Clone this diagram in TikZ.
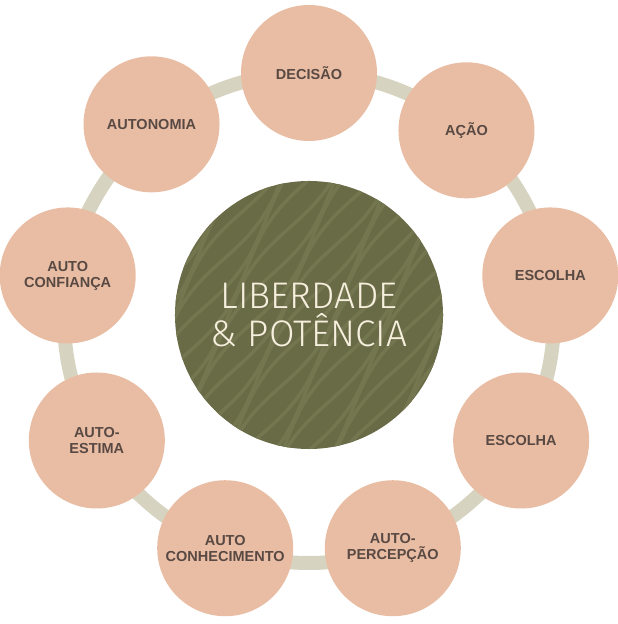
\documentclass[tikz,border=0pt]{standalone}
\usepackage{fontspec}
\usetikzlibrary{calc}
\setmainfont{Liberation Sans}
\newfontfamily\corefont{Fira Sans Light}
\definecolor{peach}{HTML}{E9BDA4}
\definecolor{moss}{HTML}{696B47}
\definecolor{mossline}{HTML}{747650}
\definecolor{ringgray}{HTML}{D6D4C0}
\definecolor{labeltext}{HTML}{594943}
\definecolor{cream}{HTML}{F6EFDD}
\tikzset{
  petal/.style={circle, fill=peach, minimum size=136pt, inner sep=0pt, align=center,
    text=labeltext, font=\bfseries\fontsize{14.5}{16}\selectfont},
  core/.style={circle, minimum size=268pt, inner sep=0pt, align=center,
    text=cream, font=\corefont\fontsize{37}{38}\selectfont},
  waveline/.style={mossline, line width=3.5pt},
  ring/.style={ringgray, line width=14pt}
}
\begin{document}
\begin{tikzpicture}[x=1pt, y=1pt]
    \useasboundingbox (0,0) rectangle (618,624);
    \coordinate (mid) at (309,306);
    \draw [ring] (mid) circle (245);
    \fill [moss] ($(mid)+(0,3)$) circle (134);
    \begin{scope}[shift={($(mid)+(0,3)$)}, rotate=55]
      \clip (0,0) circle (134);
      \foreach \k in {-150,-138,...,150}
        \draw [waveline] plot[smooth, domain=-150:150, samples=16] (\x, {\k + 8*sin(1.7*\x + 23*\k)});
    \end{scope}
    \node [core] (liberdade) at ($(mid)+(0,3)$) {LIBERDADE\\\& POTÊNCIA};
    \node [petal] (decisao) at ($(mid)+(90:245)$) {DECISÃO};
    \node [petal] (acao) at ($(mid)+(50:245)$) {AÇÃO};
    \node [petal] (escolhaA) at ($(mid)+(10:245)$) {ESCOLHA};
    \node [petal] (escolhaB) at ($(mid)+(-30:245)$) {ESCOLHA};
    \node [petal] (percepcao) at ($(mid)+(-70:245)$) {AUTO-\\PERCEPÇÃO};
    \node [petal] (conhecimento) at ($(mid)+(-110:245)$) {AUTO\\CONHECIMENTO};
    \node [petal] (estima) at ($(mid)+(-150:245)$) {AUTO-\\ESTIMA};
    \node [petal] (confianca) at ($(mid)+(170:245)$) {AUTO\\CONFIANÇA};
    \node [petal, yshift=6pt] (autonomia) at ($(mid)+(130:245)$) {AUTONOMIA};
\end{tikzpicture}
\end{document}
